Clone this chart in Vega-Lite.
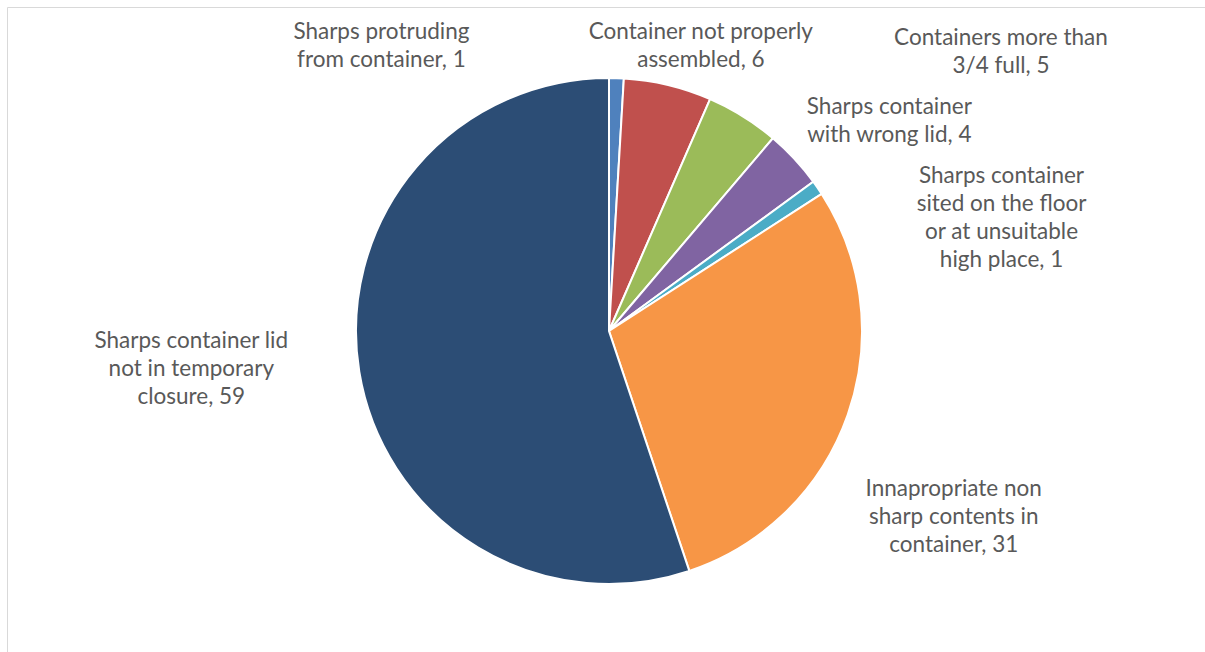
{
  "$schema": "https://vega.github.io/schema/vega-lite/v6.json",
  "width": 1204,
  "height": 648,
  "padding": {"left": 7, "top": 7, "right": 0, "bottom": 0},
  "autosize": {"type": "none"},
  "background": "white",
  "view": {"stroke": "#d9d9d9", "strokeWidth": 1},
  "data": {
    "values": [
      {"idx": 0, "category": "Sharps protruding from container", "count": 1, "label": "Sharps protruding\nfrom container, 1"},
      {"idx": 1, "category": "Container not properly assembled", "count": 6, "label": "Container not properly\nassembled, 6"},
      {"idx": 2, "category": "Containers more than 3/4 full", "count": 5, "label": "Containers more than\n3/4 full, 5"},
      {"idx": 3, "category": "Sharps container with wrong lid", "count": 4, "label": "Sharps container\nwith wrong lid, 4"},
      {"idx": 4, "category": "Sharps container sited on the floor or at unsuitable high place", "count": 1, "label": "Sharps container\nsited on the floor\nor at unsuitable\nhigh place, 1"},
      {"idx": 5, "category": "Innapropriate non sharp contents in container", "count": 31, "label": "Innapropriate non\nsharp contents in\ncontainer, 31"},
      {"idx": 6, "category": "Sharps container lid not in temporary closure", "count": 59, "label": "Sharps container lid\nnot in temporary\nclosure, 59"}
    ]
  },
  "encoding": {
    "theta": {"field": "count", "type": "quantitative", "stack": true},
    "order": {"field": "idx", "type": "quantitative"}
  },
  "layer": [
    {
      "mark": {"type": "arc", "outerRadius": 253, "stroke": "white", "strokeWidth": 2},
      "encoding": {
        "color": {
          "field": "category",
          "type": "nominal",
          "scale": {
            "domain": ["Sharps protruding from container", "Container not properly assembled", "Containers more than 3/4 full", "Sharps container with wrong lid", "Sharps container sited on the floor or at unsuitable high place", "Innapropriate non sharp contents in container", "Sharps container lid not in temporary closure"],
            "range": ["#4F81BD", "#C0504D", "#9BBB59", "#8064A2", "#4BACC6", "#F79646", "#2C4D75"]
          },
          "legend": null
        }
      }
    },
    {
      "mark": {
        "type": "text",
        "radius": 253,
        "lineBreak": "\n",
        "font": "Lato",
        "fontSize": 22.5,
        "lineHeight": 28,
        "color": "#595959",
        "align": "center",
        "baseline": "middle",
        "dx": {"expr": "[-235, 33, 258, 95, 184, 106, -168][datum.idx]"},
        "dy": {"expr": "[-46, -53, -78, -52, -12, 74, -31][datum.idx]"}
      },
      "encoding": {"text": {"field": "label"}}
    }
  ]
}
